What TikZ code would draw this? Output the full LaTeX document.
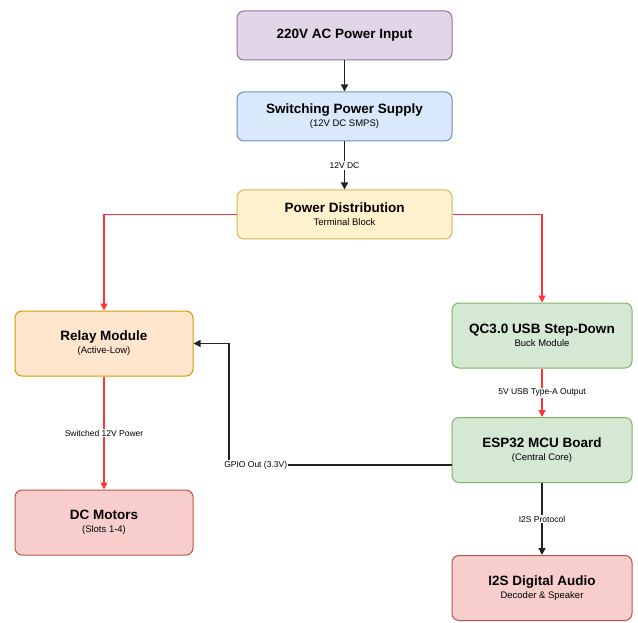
\documentclass[tikz,border=0pt]{standalone}
\usepackage{fontspec}
\setmainfont{Liberation Sans}
\usetikzlibrary{arrows.meta}
\definecolor{pfill}{HTML}{E1D5E7}\definecolor{pdraw}{HTML}{9673A6}
\definecolor{bfill}{HTML}{DAE8FC}\definecolor{bdraw}{HTML}{6C8EBF}
\definecolor{yfill}{HTML}{FFF2CC}\definecolor{ydraw}{HTML}{D6B656}
\definecolor{ofill}{HTML}{FFE6CC}\definecolor{odraw}{HTML}{D79B00}
\definecolor{gfill}{HTML}{D5E8D4}\definecolor{gdraw}{HTML}{82B366}
\definecolor{rfill}{HTML}{F8CECC}\definecolor{rdraw}{HTML}{B85450}
\definecolor{redline}{HTML}{FF3333}
\definecolor{darkline}{HTML}{222222}
\tikzset{
  box/.style={draw, rounded corners=7pt, line width=1pt, minimum width=#1, align=center, inner sep=0pt},
  box/.default=215pt,
  ttl/.style={font=\fontsize{13.5}{15}\selectfont\bfseries},
  red arrow/.style={draw=redline, line width=1.2pt, -{Triangle[length=7pt,width=7pt]}},
  blk arrow/.style={draw=darkline, line width=1.4pt, -{Triangle[length=7pt,width=7pt]}},
  lbl/.style={fill=white, font=\fontsize{8.5}{9}\selectfont, inner sep=1pt},
}
\newcommand{\sub}[1]{\\[-2pt]{\fontsize{9.5}{10}\selectfont\mdseries #1}}
\begin{document}
\begin{tikzpicture}[x=1pt,y=-1pt]
\useasboundingbox (0,0) rectangle (638,623);
\node[box, fill=pfill, draw=pdraw, minimum height=49pt, ttl] (ac) at (344.5,35.5) {220V AC Power Input};
\node[box, fill=bfill, draw=bdraw, minimum height=49pt, ttl] (smps) at (344.5,116.5) {Switching Power Supply\sub{(12V DC SMPS)}};
\node[box, fill=yfill, draw=ydraw, minimum height=49pt, ttl] (dist) at (344.5,214.5) {Power Distribution\sub{Terminal Block}};
\node[box=178pt, fill=ofill, draw=odraw, minimum height=65pt, ttl] (relay) at (104,343.5) {Relay Module\sub{(Active-Low)}};
\node[box=180pt, fill=gfill, draw=gdraw, minimum height=65pt, ttl] (qc) at (542,335.5) {QC3.0 USB Step-Down\sub{Buck Module}};
\node[box=180pt, fill=gfill, draw=gdraw, minimum height=65pt, ttl] (esp) at (542,450) {ESP32 MCU Board\sub{(Central Core)}};
\node[box=178pt, fill=rfill, draw=rdraw, minimum height=65pt, ttl] (motor) at (104,522.5) {DC Motors\sub{(Slots 1-4)}};
\node[box=180pt, fill=rfill, draw=rdraw, minimum height=65pt, ttl] (audio) at (542,588) {I2S Digital Audio\sub{Decoder \& Speaker}};

\draw[blk arrow] (ac) -- (smps);
\draw[blk arrow] (smps) -- node[lbl]{12V DC} (dist);
\draw[red arrow] (dist.west) -| (relay.north);
\draw[red arrow] (dist.east) -| (qc.north);
\draw[red arrow] (relay) -- node[lbl]{Switched 12V Power} (motor);
\draw[red arrow] (qc) -- node[lbl]{5V USB Type-A Output} (esp);
\draw[blk arrow] (esp) -- node[lbl]{I2S Protocol} (audio);
\coordinate (gp) at (229,465);
\draw[blk arrow, line width=1.2pt] (esp.west |- gp) -- node[lbl, pos=0.88]{GPIO Out (3.3V)} (gp) |- (relay.east);
\end{tikzpicture}
\end{document}
